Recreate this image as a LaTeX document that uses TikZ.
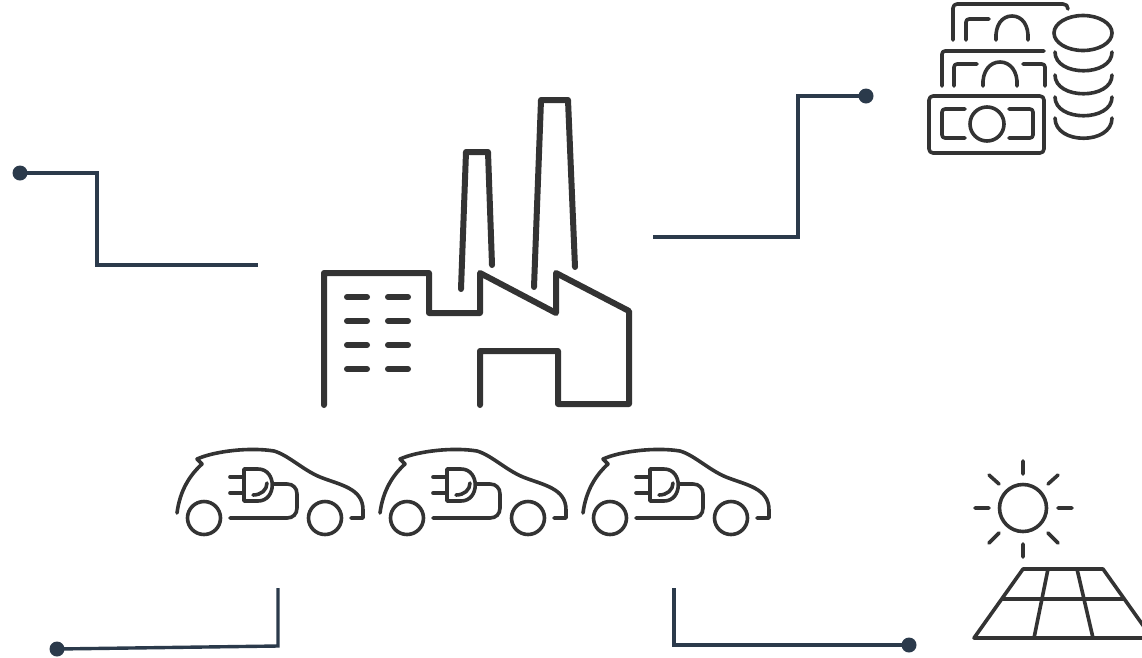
\documentclass[tikz,border=0pt]{standalone}
\definecolor{conn}{HTML}{2B3A4B}
\definecolor{ico}{HTML}{333333}
\tikzset{
  x=1pt,y=-1pt,
  connector/.style={draw=conn,line width=3.4pt,line join=miter},
  enddot/.style={circle,fill=conn,minimum size=15pt,inner sep=0pt,outer sep=0pt},
  thick icon/.style={draw=ico,line width=6pt,line cap=round,line join=round},
  thin icon/.style={draw=ico,line width=3.6pt,line cap=round,line join=round},
  car/.pic={
    \draw[thin icon] (177,513) .. controls (180,490) and (190,475) .. (202,464) -- (197,459)
      .. controls (215,451) and (250,447) .. (274,451)
      .. controls (288,455) and (303,470) .. (320,477)
      .. controls (340,485) and (363,488) .. (363,510) -- (363,518) -- (351,518);
    \draw[thin icon] (204,518) circle (16.5);
    \draw[thin icon] (325,518) circle (16.5);
    \draw[thin icon] (244,501) -- (244,469) -- (258,469) .. controls (277,469) and (277,501) .. (258,501) -- cycle;
    \draw[thin icon] (230,477) -- (244,477) (230,493) -- (244,493);
    \draw[thin icon] (253,495) .. controls (261,495) and (267,490) .. (267,483);
    \draw[thin icon] (273,484) -- (287,484) .. controls (293,484) and (297,488) .. (297,494)
      -- (297,508) .. controls (297,514) and (293,518) .. (287,518) -- (230,518);
  }
}
\begin{document}
\begin{tikzpicture}
\useasboundingbox (0,0) rectangle (1142,657);
\clip (0,0) rectangle (1142,657);
% connectors
\node[enddot] (d1) at (20,173) {};
\node[enddot] (d2) at (866,96) {};
\node[enddot] (d3) at (57,649) {};
\node[enddot] (d4) at (909,645) {};
\coordinate (e1) at (258,265);
\coordinate (e2) at (653,237);
\coordinate (e3) at (278,588);
\coordinate (e4) at (674,588);
\draw[connector] (d1.center) -- (97,173) -- (97,265) -- (e1);
\draw[connector] (d2.center) -- (798,96) -- (798,237) -- (e2);
\draw[connector] (d3.center) -- (278,646) -- (e3);
\draw[connector] (d4.center) -- (674,645) -- (e4);
% factory
\draw[thick icon] (324,405) -- (324,273) -- (429,273) -- (429,313) -- (480,313) -- (480,273)
  -- (556,313) -- (556,273) -- (629,311) -- (629,404) -- (558,404) -- (558,351) -- (480,351) -- (480,405);
\draw[thick icon] (461,289) -- (466,152) -- (488,152) -- (492,265);
\draw[thick icon] (534,287) -- (541,100) -- (568,100) -- (575,267);
\foreach \y in {297,321,345,369}{
  \draw[thick icon] (347,\y) -- (367,\y) (388,\y) -- (408,\y);
}
% money
\draw[thin icon,rounded corners=4pt] (929,96) rectangle (1044,153);
\draw[thin icon,rounded corners=3pt] (965,109) -- (942,109) -- (942,138) -- (965,138);
\draw[thin icon,rounded corners=3pt] (1009,109) -- (1033,109) -- (1033,138) -- (1009,138);
\draw[thin icon] (987,124) circle (17);
\draw[thin icon,rounded corners=3pt] (942,86) -- (942,51) -- (1044,51);
\draw[thin icon,rounded corners=3pt] (954,86) -- (954,64) -- (977,64);
\draw[thin icon] (983,86) .. controls (982,71) and (990,62) .. (1000,62) .. controls (1010,62) and (1018,71) .. (1017,86);
\draw[thin icon,rounded corners=3pt] (1023,64) -- (1045,64) -- (1045,86);
\draw[thin icon,rounded corners=4pt] (953,40) -- (953,4) -- (1063,4);
\draw[thin icon] (1063,4) .. controls (1066,4) and (1068,6) .. (1068,9);
\draw[thin icon,rounded corners=3pt] (966,40) -- (966,19) -- (989,19);
\draw[thin icon] (996,40) .. controls (995,25) and (1002,16) .. (1012,16) .. controls (1022,16) and (1029,25) .. (1028,40);
\draw[thin icon] (1083,33) ellipse [x radius=29,y radius=17.5];
\foreach \t/\b in {52/73,75/96,97/118,118/141}{
  \draw[thin icon] (1055,\t) .. controls (1055,\b+4) and (1112,\b+4) .. (1112,\t);
}
% cars
\foreach \dx in {0,203,406}{
  \pic at (\dx,0) {car};
}
% sun
\draw[thin icon] (1023,508) circle (23.5);
\draw[thin icon] (1023,461) -- (1023,474) (1023,544) -- (1023,557)
  (975,508) -- (989,508) (1058,508) -- (1072,508)
  (989,475) -- (999,484) (1058,475) -- (1048,484)
  (989,543) -- (999,533) (1058,543) -- (1048,533);
% panel
\draw[thin icon] (974,638) -- (1023,569) -- (1103,569) -- (1152,638) -- cycle;
\draw[thin icon] (1003,599) -- (1123,599);
\draw[thin icon] (1048,569) -- (1034,638) (1077,569) -- (1093,638);
\end{tikzpicture}
\end{document}
